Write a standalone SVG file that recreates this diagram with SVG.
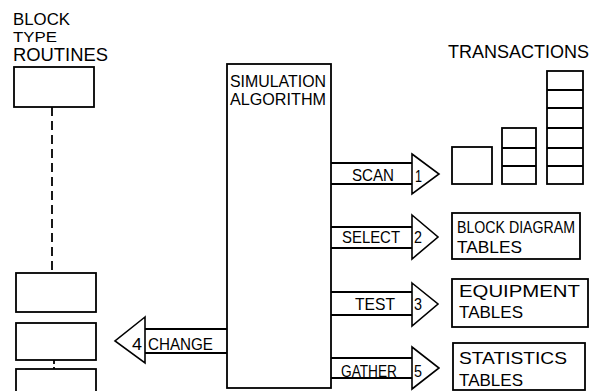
<svg xmlns="http://www.w3.org/2000/svg" width="595" height="391" viewBox="0 0 595 391">
<style>
  .box{fill:#fff;stroke:#000;stroke-width:1.8}
  .ln{fill:none;stroke:#000;stroke-width:1.8}
  .dash{fill:none;stroke:#000;stroke-width:1.8;stroke-dasharray:9,5}
  .head{fill:#fff;stroke:#000;stroke-width:1.6;stroke-linejoin:miter}
  text{font-family:"Liberation Sans","DejaVu Sans",sans-serif;font-size:17px;fill:#000}
  .lbl{font-size:17px}
  .big{font-size:18px}
</style>
<rect width="595" height="391" fill="#fff"/>

<g id="routines-label">
  <text x="13" y="25" textLength="57" lengthAdjust="spacingAndGlyphs">BLOCK</text>
  <text x="13" y="42" textLength="44" lengthAdjust="spacingAndGlyphs" style="font-size:15px">TYPE</text>
  <text class="big" x="13" y="61" textLength="95" lengthAdjust="spacingAndGlyphs">ROUTINES</text>
</g>
<g id="routine1"><rect class="box" x="14" y="67" width="80" height="40"/></g>
<g id="routine2"><rect class="box" x="16" y="273" width="80" height="39"/></g>
<g id="routine3"><rect class="box" x="16" y="323" width="80" height="37"/></g>
<g id="routine4"><rect class="box" x="16" y="369" width="80" height="30"/></g>

<g id="simulation">
  <rect class="box" x="227" y="64" width="104" height="324"/>
  <text x="230" y="87" textLength="96" lengthAdjust="spacingAndGlyphs">SIMULATION</text>
  <text x="230" y="105" textLength="96" lengthAdjust="spacingAndGlyphs">ALGORITHM</text>
</g>

<g id="transactions">
  <text x="448" y="58" textLength="141" lengthAdjust="spacingAndGlyphs" style="font-size:17.5px">TRANSACTIONS</text>
  <rect class="box" x="452" y="147" width="40" height="37"/>
  <rect class="box" x="502" y="128" width="34" height="56"/>
  <line class="ln" x1="502" y1="148" x2="536" y2="148"/>
  <line class="ln" x1="502" y1="166" x2="536" y2="166"/>
  <rect class="box" x="547" y="71" width="36" height="113"/>
  <line class="ln" x1="547" y1="90" x2="583" y2="90"/>
  <line class="ln" x1="547" y1="108" x2="583" y2="108"/>
  <line class="ln" x1="547" y1="128" x2="583" y2="128"/>
  <line class="ln" x1="547" y1="148" x2="583" y2="148"/>
  <line class="ln" x1="547" y1="166" x2="583" y2="166"/>
</g>

<g id="block-diagram-tables">
  <rect class="box" x="452" y="213" width="128" height="46"/>
  <text x="457" y="233" textLength="118" lengthAdjust="spacingAndGlyphs" style="font-size:16px">BLOCK DIAGRAM</text>
  <text x="457" y="253" textLength="65" lengthAdjust="spacingAndGlyphs">TABLES</text>
</g>
<g id="equipment-tables">
  <rect class="box" x="452" y="279" width="136" height="48"/>
  <text x="459" y="297" textLength="121" lengthAdjust="spacingAndGlyphs">EQUIPMENT</text>
  <text x="459" y="318" textLength="64" lengthAdjust="spacingAndGlyphs">TABLES</text>
</g>
<g id="statistics-tables">
  <rect class="box" x="453" y="343" width="132" height="47"/>
  <text x="459" y="364" textLength="108" lengthAdjust="spacingAndGlyphs">STATISTICS</text>
  <text x="459" y="386" textLength="64" lengthAdjust="spacingAndGlyphs">TABLES</text>
</g>

<g id="connectors">
  <line class="dash" x1="52" y1="107" x2="52" y2="273"/>
  <line class="dash" x1="54" y1="360" x2="54" y2="369" style="stroke-dasharray:4,3"/>

  <!-- SCAN -->
  <line class="ln" x1="331" y1="163" x2="412" y2="163"/>
  <line class="ln" x1="331" y1="184" x2="412" y2="184"/>
  <polygon class="head" points="412,154 439,174 412,194"/>
  <text class="lbl" x="352" y="181" textLength="42" lengthAdjust="spacingAndGlyphs">SCAN</text>
  <text class="lbl" x="415" y="182" textLength="7" lengthAdjust="spacingAndGlyphs">1</text>

  <!-- SELECT -->
  <line class="ln" x1="331" y1="227" x2="412" y2="227"/>
  <line class="ln" x1="331" y1="248" x2="412" y2="248"/>
  <polygon class="head" points="412,215 438,237 412,259"/>
  <text class="lbl" x="342" y="243" textLength="58" lengthAdjust="spacingAndGlyphs">SELECT</text>
  <text class="lbl" x="414" y="243" textLength="8" lengthAdjust="spacingAndGlyphs">2</text>

  <!-- TEST -->
  <line class="ln" x1="331" y1="292" x2="412" y2="292"/>
  <line class="ln" x1="331" y1="315" x2="412" y2="315"/>
  <polygon class="head" points="412,283 438,304 412,326"/>
  <text class="lbl" x="355" y="310" textLength="40" lengthAdjust="spacingAndGlyphs">TEST</text>
  <text class="lbl" x="414" y="310" textLength="8" lengthAdjust="spacingAndGlyphs">3</text>

  <!-- GATHER -->
  <line class="ln" x1="331" y1="358" x2="412" y2="358"/>
  <line class="ln" x1="331" y1="378" x2="412" y2="378"/>
  <polygon class="head" points="412,347 439,368 412,389"/>
  <text class="lbl" x="341" y="377" textLength="56" lengthAdjust="spacingAndGlyphs">GATHER</text>
  <text class="lbl" x="414" y="377" textLength="8" lengthAdjust="spacingAndGlyphs">5</text>

  <!-- CHANGE -->
  <line class="ln" x1="145" y1="329" x2="227" y2="329"/>
  <line class="ln" x1="145" y1="353" x2="227" y2="353"/>
  <polygon class="head" points="145,317 115,341 145,363"/>
  <text class="lbl" x="148" y="350" textLength="65" lengthAdjust="spacingAndGlyphs">CHANGE</text>
  <text class="lbl" x="132" y="350" textLength="10" lengthAdjust="spacingAndGlyphs">4</text>
</g>
</svg>
